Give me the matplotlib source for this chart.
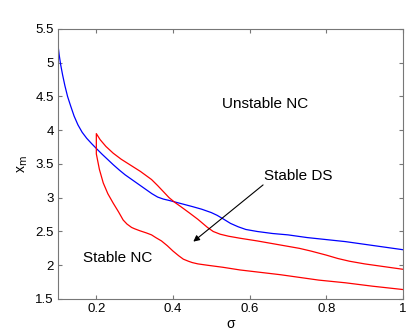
import matplotlib
matplotlib.use("Agg")
import matplotlib.pyplot as plt

plt.rcParams['font.family'] = ['Liberation Sans', 'DejaVu Sans']

# blue curve (unstable / stable NC boundary)
sig_blue = [0.1, 0.103, 0.107, 0.112, 0.118, 0.125, 0.133, 0.142, 0.152, 0.163,
            0.175, 0.188, 0.2, 0.215, 0.23, 0.244, 0.26, 0.275, 0.29, 0.31,
            0.33, 0.345, 0.36, 0.375, 0.39, 0.41, 0.43, 0.45, 0.475, 0.5,
            0.515, 0.53, 0.55, 0.57, 0.59, 0.62, 0.66, 0.7, 0.75, 0.8, 0.85,
            0.9, 0.95, 1.0]
xm_blue = [5.26, 5.12, 4.97, 4.82, 4.66, 4.5, 4.36, 4.21, 4.08, 3.97,
           3.88, 3.80, 3.73, 3.645, 3.565, 3.49, 3.41, 3.34, 3.28, 3.20,
           3.12, 3.06, 3.01, 2.98, 2.96, 2.93, 2.90, 2.87, 2.83, 2.78,
           2.74, 2.69, 2.62, 2.57, 2.53, 2.50, 2.47, 2.45, 2.41, 2.38, 2.35,
           2.31, 2.27, 2.23]

# red curve, lower branch (from sigma=1 back to 0.2)
sig_low = [1.0, 0.92, 0.85, 0.78, 0.73, 0.68, 0.62, 0.575, 0.53, 0.49, 0.465,
           0.45, 0.44, 0.427, 0.415, 0.40, 0.385, 0.37, 0.355, 0.344, 0.33,
           0.314, 0.3, 0.292, 0.28, 0.27, 0.258, 0.244, 0.23, 0.218, 0.208,
           0.2]
xm_low = [1.64, 1.69, 1.74, 1.78, 1.82, 1.86, 1.90, 1.93, 1.97, 2.0, 2.02,
          2.04, 2.06, 2.09, 2.14, 2.21, 2.29, 2.36, 2.41, 2.45, 2.48,
          2.51, 2.54, 2.56, 2.61, 2.67, 2.79, 2.92, 3.06, 3.22, 3.42,
          3.65]

# red curve, upper branch
sig_up = [0.2, 0.21, 0.225, 0.244, 0.265, 0.29, 0.315, 0.344, 0.36, 0.375,
          0.39, 0.405, 0.42, 0.444, 0.465, 0.49, 0.505, 0.523, 0.545, 0.575,
          0.62, 0.66, 0.7, 0.73, 0.76, 0.8, 0.83, 0.86, 0.9, 0.95, 1.0]
xm_up = [3.95, 3.86, 3.76, 3.66, 3.57, 3.48, 3.39, 3.27, 3.18, 3.09,
         3.0, 2.93, 2.87, 2.77, 2.68, 2.56, 2.50, 2.46, 2.43, 2.40,
         2.36, 2.32, 2.28, 2.25, 2.21, 2.15, 2.10, 2.06, 2.02, 1.98, 1.94]

fig = plt.figure(figsize=(4.09, 3.34), dpi=100)
ax = fig.add_axes([0.1418, 0.1048, 0.8435, 0.8084])

ax.plot(sig_blue, xm_blue, color='#0000ff', lw=0.9)
ax.plot(sig_low + sig_up, xm_low + xm_up, color='#ff0000', lw=0.9)

ax.set_xlim(0.1, 1.0)
ax.set_ylim(1.5, 5.5)
ax.set_xticks([0.2, 0.4, 0.6, 0.8, 1.0])
ax.set_xticklabels(['0.2', '0.4', '0.6', '0.8', '1'])
ax.set_yticks([1.5, 2, 2.5, 3, 3.5, 4, 4.5, 5, 5.5])
ax.set_yticklabels(['1.5', '2', '2.5', '3', '3.5', '4', '4.5', '5', '5.5'])
ax.tick_params(direction='in', top=True, right=True, labelsize=9.5,
               length=3, color='#777777', pad=3)
for s in ax.spines.values():
    s.set_color('#777777')
    s.set_linewidth(0.8)

ax.set_xlabel('σ', fontsize=10, labelpad=1)
ax.set_ylabel(r'x$_\mathrm{m}$', fontsize=10, labelpad=4)

ax.text(0.64, 4.39, 'Unstable NC', fontsize=11, ha='center', va='center')
ax.text(0.726, 3.32, 'Stable DS', fontsize=11, ha='center', va='center')
ax.text(0.257, 2.11, 'Stable NC', fontsize=11, ha='center', va='center')
ax.annotate('', xy=(0.453, 2.35), xytext=(0.635, 3.19),
            arrowprops=dict(arrowstyle='-|>', color='black', lw=0.8,
                            mutation_scale=9, shrinkA=0, shrinkB=0))

fig.savefig('out.png', dpi=100)
